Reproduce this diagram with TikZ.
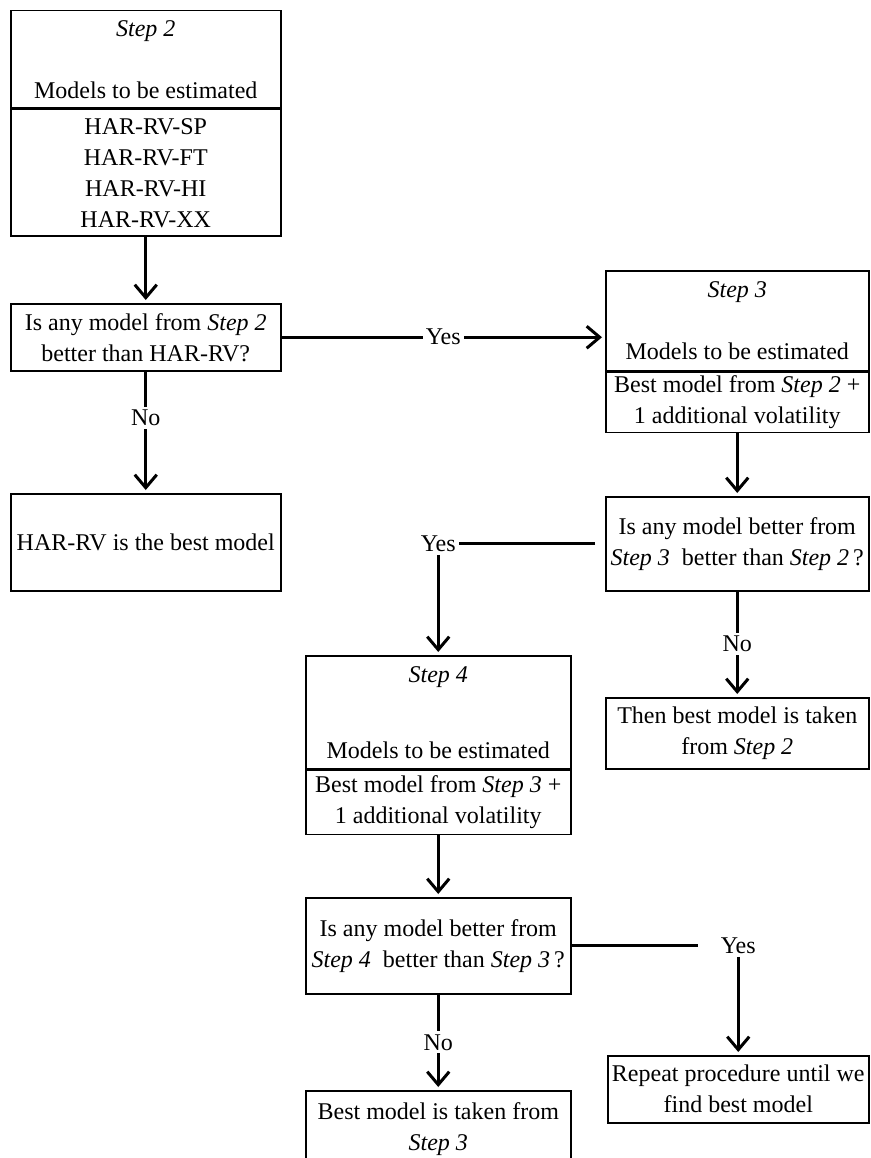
\documentclass[tikz,border=0pt]{standalone}
\usepackage{fontspec}
\setmainfont{Liberation Serif}
\usetikzlibrary{positioning, arrows.meta}

\tikzset{
    box/.style={draw, line width=1.5pt, align=center, inner sep=2pt,
        font=\fontsize{24}{31}\selectfont},
    link/.style={line width=3pt},
    arr/.style={line width=3pt, -{Straight Barb[length=13pt, width=22pt]}, shorten >=3pt},
    lbl/.style={fill=white, inner sep=3pt, font=\fontsize{24}{31}\selectfont},
}

\begin{document}
\begin{tikzpicture}[x=1pt, y=-1pt]
    \useasboundingbox (0,0) rectangle (870,1158);

    % left column
    \node[box, minimum width=270pt, minimum height=97pt, anchor=north west] (s2head) at (10,10)
        {\textit{Step 2}\\[31pt]Models to be estimated};
    \node[box, minimum width=270pt, minimum height=127pt, anchor=north] (s2list) at (s2head.south)
        {HAR-RV-SP\\HAR-RV-FT\\HAR-RV-HI\\HAR-RV-XX};
    \node[box, minimum width=270pt, minimum height=67pt, anchor=north west] (dec1) at (10,303)
        {Is any model from \textit{Step 2}\\better than HAR-RV?};
    \node[box, minimum width=270pt, minimum height=97pt, anchor=north west] (best1) at (10,493)
        {HAR-RV is the best model};

    % right column
    \node[box, minimum width=263pt, minimum height=100pt, anchor=north west] (s3head) at (605,270)
        {\textit{Step 3}\\[31pt]Models to be estimated};
    \node[box, minimum width=263pt, minimum height=60pt, anchor=north] (s3list) at (s3head.south)
        {Best model from \textit{Step 2} +\\1 additional volatility};
    \node[box, minimum width=263pt, minimum height=94pt, anchor=north west] (dec2) at (605,496)
        {Is any model better from\\\textit{Step 3}~ better than \textit{Step 2}\,?};
    \node[box, minimum width=263pt, minimum height=71pt, anchor=north west] (then2) at (605,697)
        {Then best model is taken\\from \textit{Step 2}};

    % middle column
    \node[box, minimum width=265pt, minimum height=113pt, anchor=north west] (s4head) at (305,655)
        {\textit{Step 4}\\[45pt]Models to be estimated};
    \node[box, minimum width=265pt, minimum height=64pt, anchor=north] (s4list) at (s4head.south)
        {Best model from \textit{Step 3} +\\1 additional volatility};
    \node[box, minimum width=265pt, minimum height=96pt, anchor=north west] (dec3) at (305,897)
        {Is any model better from\\\textit{Step 4}~ better than \textit{Step 3}\,?};
    \node[box, minimum width=265pt, minimum height=76pt, anchor=north west] (final) at (305,1090)
        {Best model is taken from\\\textit{Step 3}};
    \node[box, minimum width=261pt, minimum height=67pt, anchor=north west] (again) at (607,1055)
        {Repeat procedure until we\\find best model};

    % connectors
    \draw[arr] (s2list.south) -- (dec1.north);
    \draw[arr] (dec1.east) -- node[lbl] {Yes} (dec1.east -| s3head.west);
    \draw[arr] (dec1.south) -- node[lbl, pos=0.38] {No} (best1.north);
    \draw[arr] (s3list.south) -- (dec2.north);

    \node[lbl] (yes2) at (s4head.north |- dec2.west) {Yes};
    \draw[link, shorten <=10pt] (dec2.west) -- (yes2.east);
    \draw[arr] (yes2.south) -- (s4head.north);
    \draw[arr] (dec2.south) -- node[lbl] {No} (then2.north);

    \draw[arr] (s4list.south) -- (dec3.north);
    \node[lbl] (yes3) at (again.north |- dec3.east) {Yes};
    \draw[link, shorten >=20pt] (dec3.east) -- (yes3.west);
    \draw[arr] (yes3.south) -- (again.north);
    \draw[arr] (dec3.south) -- node[lbl] {No} (final.north);
\end{tikzpicture}
\end{document}
